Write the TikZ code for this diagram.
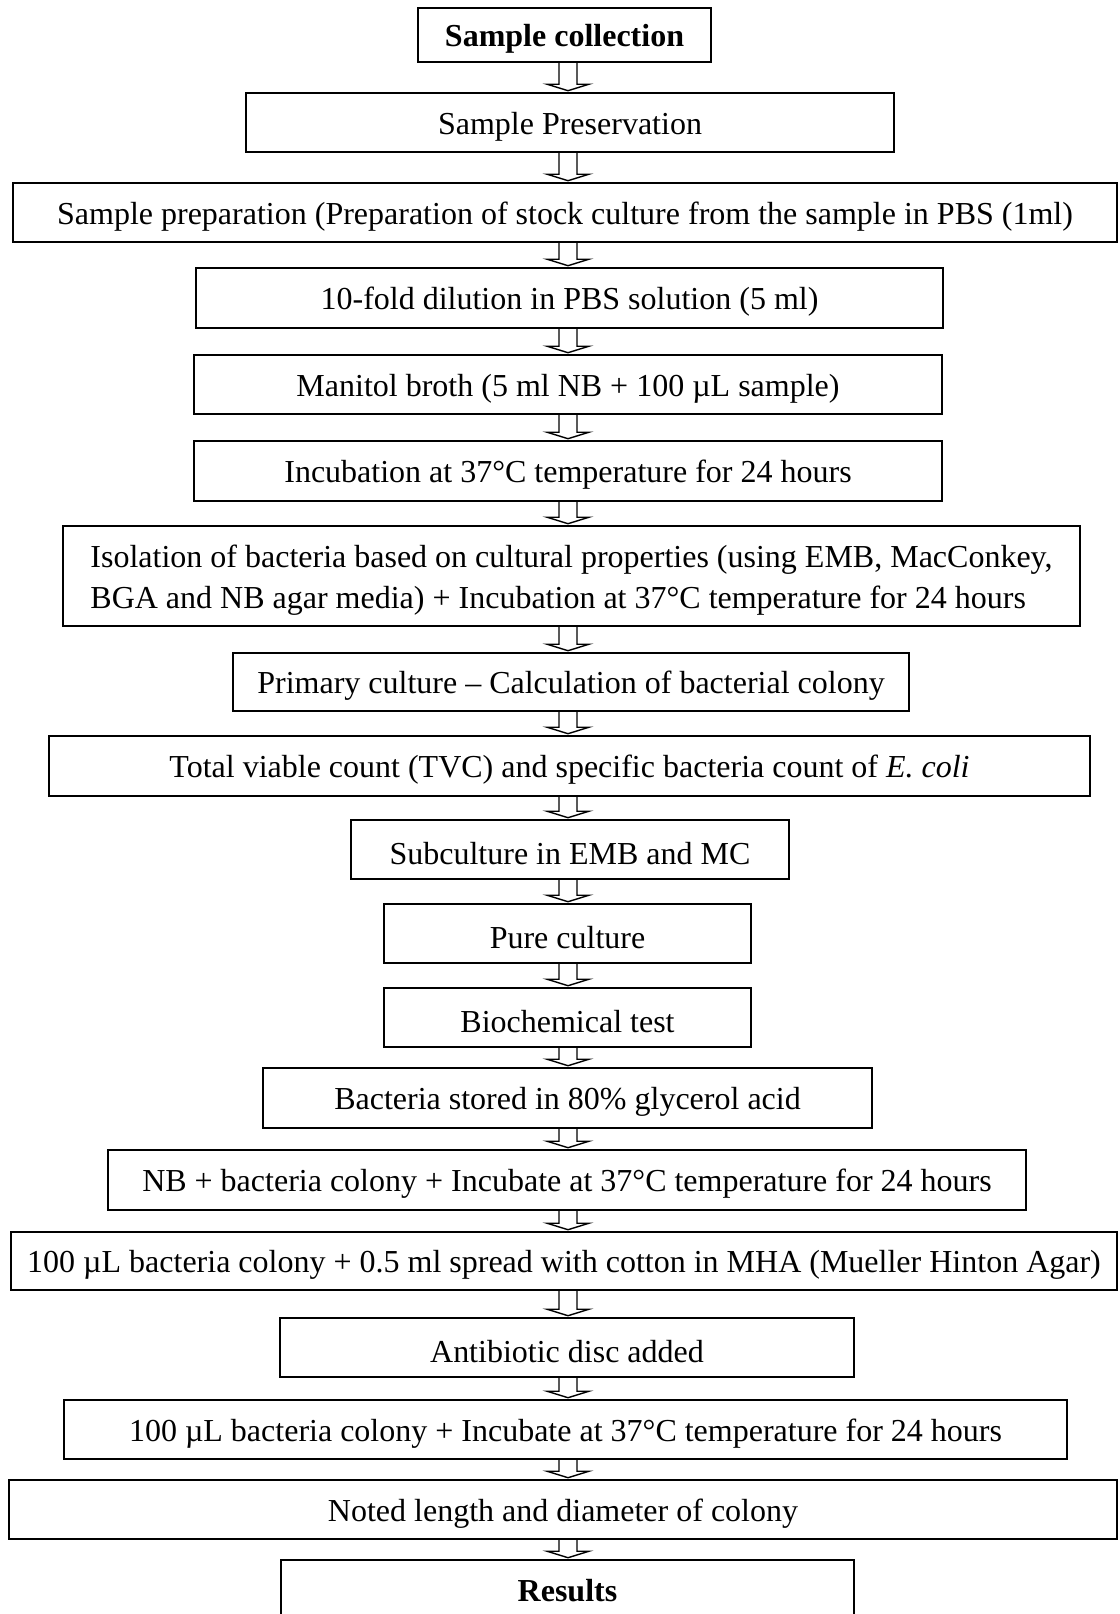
\documentclass[tikz,border=0pt]{standalone}
\usepackage{fontspec}
\setmainfont{Liberation Serif}
\usetikzlibrary{calc}
\tikzset{
  box/.style={draw, line width=1.6pt, inner sep=0pt, font=\fontsize{32}{41}\selectfont, align=center},
  arrowline/.style={draw, line width=1.4pt, line join=miter},
}
\newcommand{\flowbox}[6]{%
  \pgfmathsetmacro{\bw}{#4-#2}\pgfmathsetmacro{\bh}{#5-#3}%
  \pgfmathsetmacro{\bcx}{(#2+#4)/2}\pgfmathsetmacro{\bcy}{(#3+#5)/2}%
  \node[box, minimum width=\bw pt, minimum height=\bh pt] (#1) at (\bcx,\bcy) {\raisebox{-4pt}[\height][\depth]{#6}};}
\newcommand{\flowarrow}[2]{%
  \draw[arrowline] let \p1=(ax |- #1.south), \p2=(ax |- #2.north) in
    (\x1-9pt,\y1) -- (\x1-9pt,\y2+8pt) -- (\x1-21pt,\y2+8pt) -- (\x1,\y2+1.5pt)
    -- (\x1+21pt,\y2+8pt) -- (\x1+9pt,\y2+8pt) -- (\x1+9pt,\y1);}
\begin{document}
\begin{tikzpicture}[x=1pt,y=-1pt]
\useasboundingbox (0,0) rectangle (1119,1614);
\clip (0,0) rectangle (1119,1614);
\coordinate (ax) at (568,0);
\flowbox{b1}{418}{8}{711}{62}{\textbf{Sample collection}}
\flowbox{b2}{246}{93}{894}{152}{Sample Preservation}
\flowbox{b3}{13}{183}{1117}{242}{Sample preparation (Preparation of stock culture from the sample in PBS (1ml)}
\flowbox{b4}{196}{268}{943}{328}{10-fold dilution in PBS solution (5 ml)}
\flowbox{b5}{194}{355}{942}{414}{Manitol broth (5 ml NB + 100 µL sample)}
\flowbox{b6}{194}{441}{942}{501}{Incubation at 37°C temperature for 24 hours}
\flowbox{b7}{63}{526}{1080}{626}{\begin{tabular}{@{}l@{}}Isolation of bacteria based on cultural properties (using EMB, MacConkey,\\ BGA and NB agar media) + Incubation at 37°C temperature for 24 hours\end{tabular}}
\flowbox{b8}{233}{653}{909}{711}{Primary culture – Calculation of bacterial colony}
\flowbox{b9}{49}{736}{1090}{796}{Total viable count (TVC) and specific bacteria count of \textit{E. coli}}
\flowbox{b10}{351}{820}{789}{879}{Subculture in EMB and MC}
\flowbox{b11}{384}{904}{751}{963}{Pure culture}
\flowbox{b12}{384}{988}{751}{1047}{Biochemical test}
\flowbox{b13}{263}{1068}{872}{1128}{Bacteria stored in 80\% glycerol acid}
\flowbox{b14}{108}{1150}{1026}{1210}{NB + bacteria colony + Incubate at 37°C temperature for 24 hours}
\flowbox{b15}{11}{1232}{1117}{1290}{100 µL bacteria colony + 0.5 ml spread with cotton in MHA (Mueller Hinton Agar)}
\flowbox{b16}{280}{1318}{854}{1377}{Antibiotic disc added}
\flowbox{b17}{64}{1400}{1067}{1459}{100 µL bacteria colony + Incubate at 37°C temperature for 24 hours}
\flowbox{b18}{9}{1480}{1117}{1539}{Noted length and diameter of colony}
\flowbox{b19}{281}{1560}{854}{1630}{\raisebox{8pt}[\height][\depth]{\textbf{Results}}}
\flowarrow{b1}{b2}
\flowarrow{b2}{b3}
\flowarrow{b3}{b4}
\flowarrow{b4}{b5}
\flowarrow{b5}{b6}
\flowarrow{b6}{b7}
\flowarrow{b7}{b8}
\flowarrow{b8}{b9}
\flowarrow{b9}{b10}
\flowarrow{b10}{b11}
\flowarrow{b11}{b12}
\flowarrow{b12}{b13}
\flowarrow{b13}{b14}
\flowarrow{b14}{b15}
\flowarrow{b15}{b16}
\flowarrow{b16}{b17}
\flowarrow{b17}{b18}
\flowarrow{b18}{b19}
\end{tikzpicture}
\end{document}
